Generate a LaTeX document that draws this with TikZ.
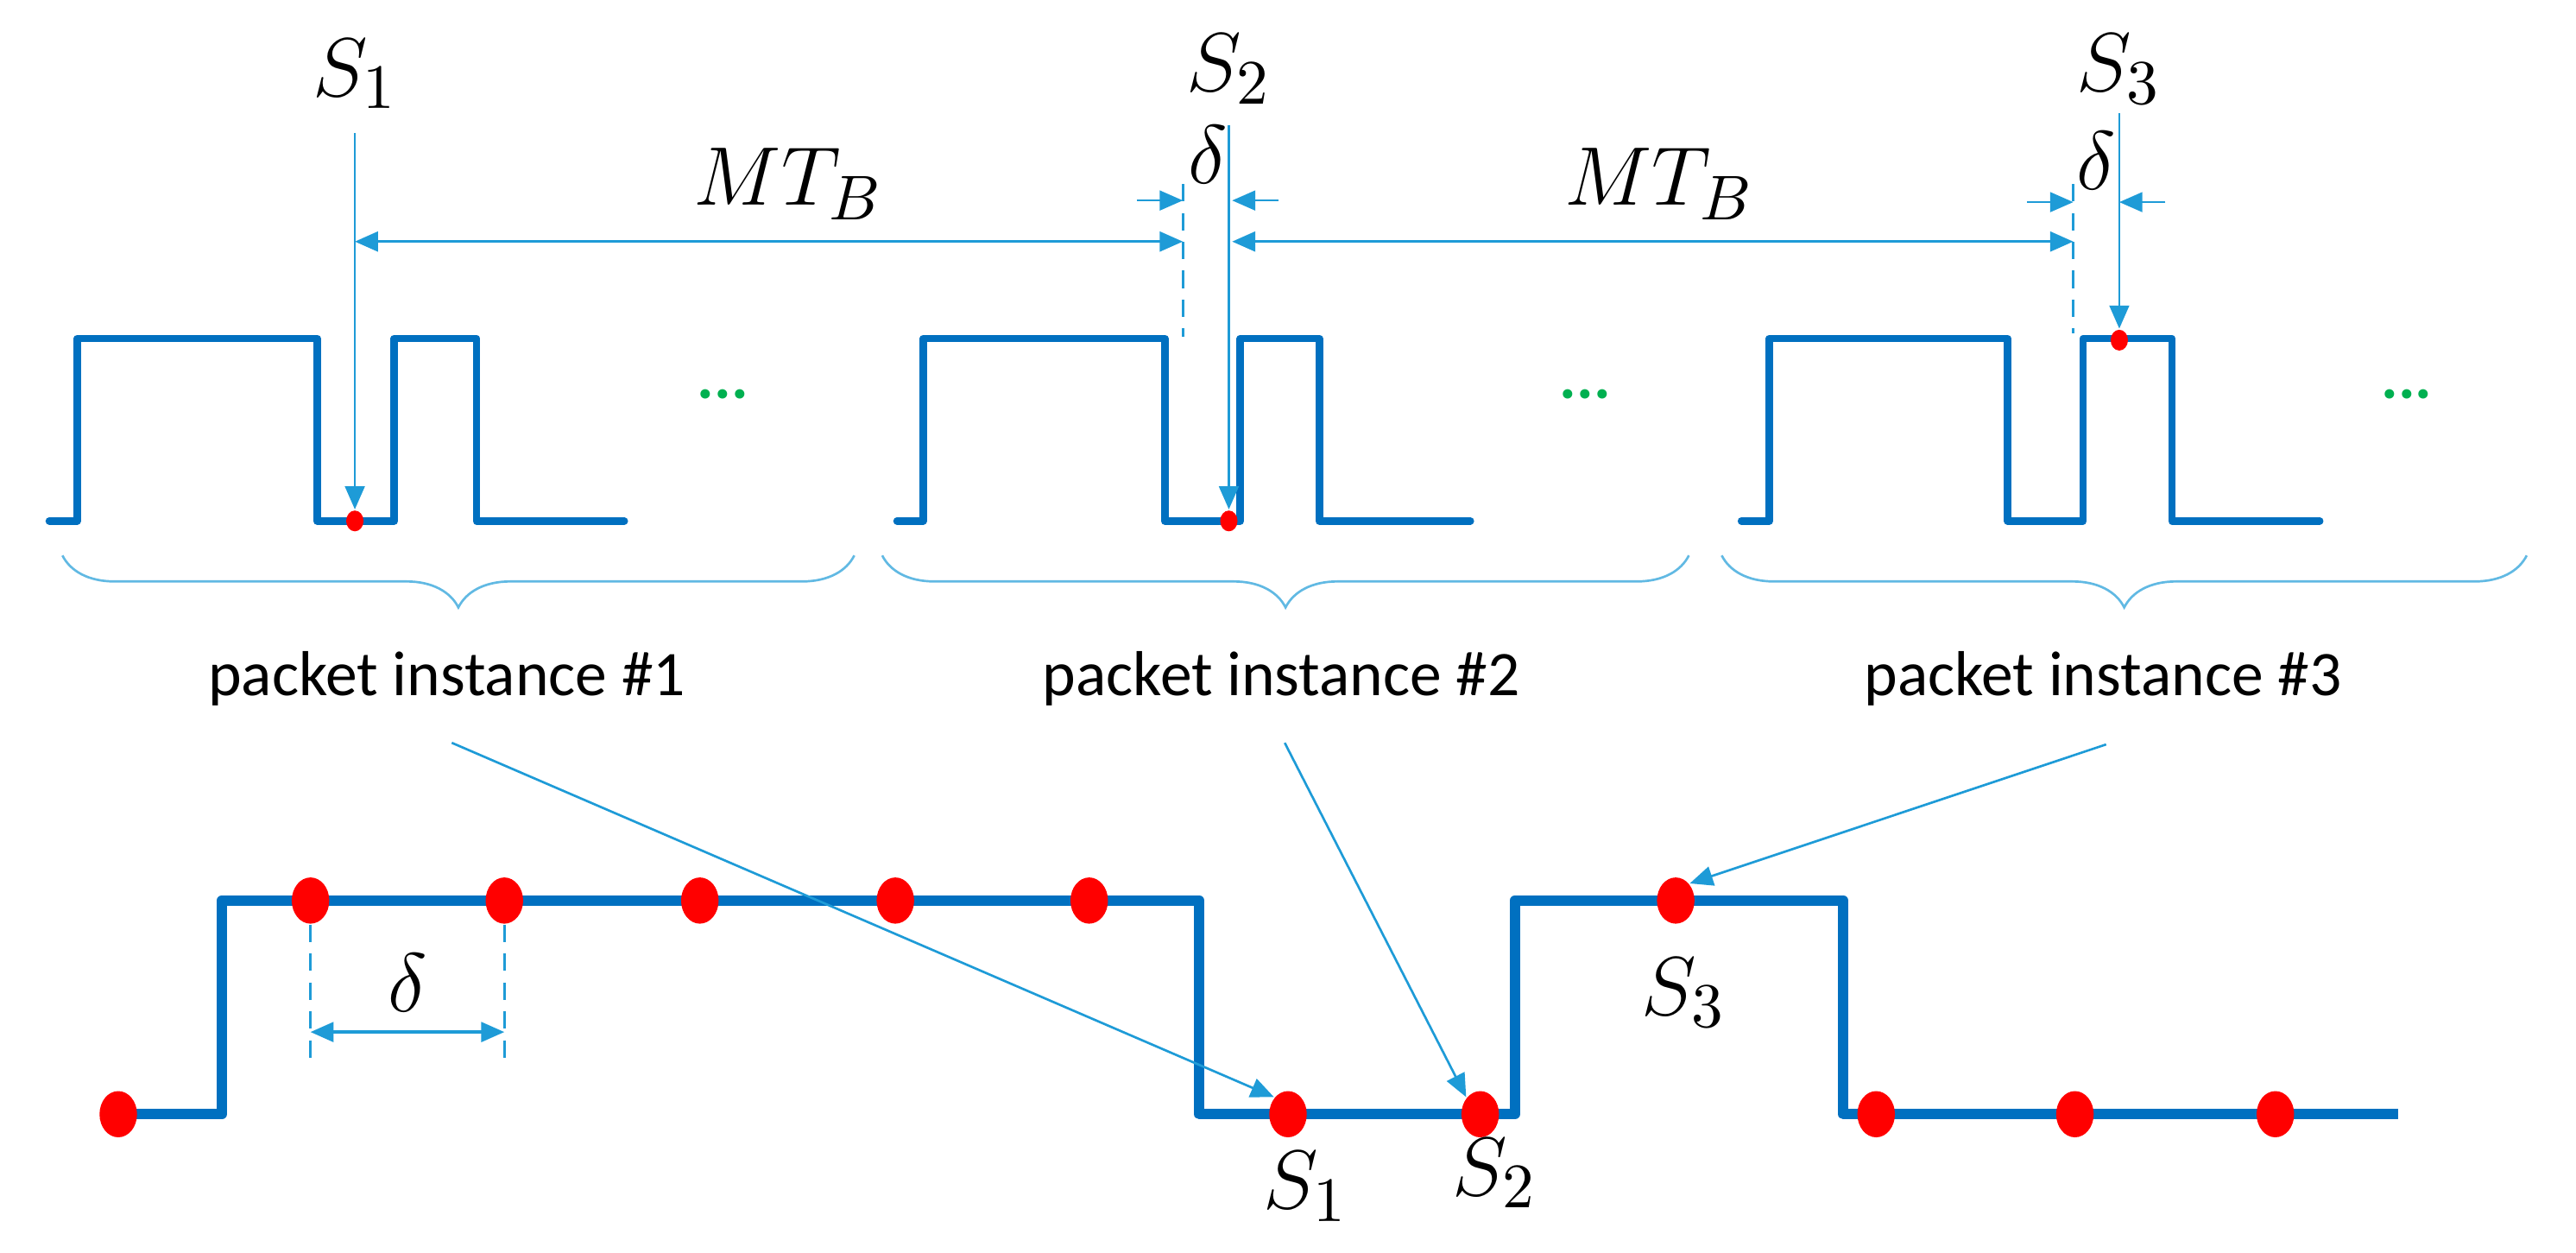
\documentclass[tikz,border=0pt]{standalone}
\usepackage{fontspec}
\setmainfont{Carlito}
\usetikzlibrary{arrows.meta,decorations.pathreplacing,shapes.geometric}
\definecolor{wave}{HTML}{0070C0}
\definecolor{arr}{HTML}{1E9BD7}
\definecolor{gdot}{HTML}{00B050}
\begin{document}
\begin{tikzpicture}[x=0.1mm,y=-0.1mm,
  wt/.style={wave,line width=1.3pt,line join=round,line cap=round},
  wb/.style={wave,line width=1.8pt,line join=round},
  sdot/.style={ellipse,fill=red,inner sep=0pt,minimum width=3pt,minimum height=3.6pt},
  bdot/.style={ellipse,fill=red,inner sep=0pt,minimum width=6.5pt,minimum height=8pt},
  tip/.style={arr,line width=0.4pt,-{Triangle[length=4pt,width=3.4pt]}},
  dim/.style={arr,line width=0.5pt,{Triangle[length=4pt,width=3.4pt]}-{Triangle[length=4pt,width=3.4pt]}},
  dsh/.style={arr,line width=0.4pt,dash pattern=on 3pt off 2pt},
  lbl/.style={font=\fontsize{15}{17}\selectfont},
  pk/.style={font=\fontsize{11}{13}\selectfont},
  gd/.style={gdot,font=\bfseries\fontsize{11}{13}\selectfont},
  br/.style={arr!70,line width=0.4pt,decorate,decoration={brace,mirror,amplitude=9pt}}]
\useasboundingbox (0,0) rectangle (1568,762);
% top waveforms
\draw[wt] (30,317)--(47,317)--(47,206)--(193,206)--(193,317)--(240,317)--(240,206)--(290,206)--(290,317)--(380,317);
\draw[wt] (546,317)--(562,317)--(562,206)--(709,206)--(709,317)--(755,317)--(755,206)--(803,206)--(803,317)--(895,317);
\draw[wt] (1060,317)--(1077,317)--(1077,206)--(1222,206)--(1222,317)--(1268,317)--(1268,206)--(1322,206)--(1322,317)--(1412,317);
\node[gd] (g1) at (440,240) {...};
\node[gd] (g2) at (965,240) {...};
\node[gd] (g3) at (1465,240) {...};
\node[sdot] (d1) at (216,317) {};
\node[sdot] (d2) at (748,317) {};
\node[sdot] (d3) at (1290,207) {};
% S labels top
\node[lbl] (s1) at (216,45) {$S_1$};
\node[lbl] (s2) at (748,42) {$S_2$};
\node[lbl] (s3) at (1290,42) {$S_3$};
\coordinate (s1a) at (216,81);
\coordinate (s2a) at (748,76);
\coordinate (s3a) at (1290,69);
\draw[tip] (s1a)--(d1.north);
\draw[tip] (s2a)--(d2.north);
\draw[tip] (s3a)--(d3.north);
% dashed markers
\coordinate (m2) at (720,112);
\coordinate (m2b) at (720,205);
\coordinate (m3) at (1262,112);
\coordinate (m3b) at (1262,203);
\draw[dsh] (m2)--(m2b);
\draw[dsh] (m3)--(m3b);
% MT_B
\coordinate (a1) at (216,147); \coordinate (a2) at (720,147);
\coordinate (a3) at (750,147); \coordinate (a4) at (1262,147);
\draw[dim] (a1)--(a2);
\draw[dim] (a3)--(a4);
\node[lbl] (mt1) at (480,112) {$MT_B$};
\node[lbl] (mt2) at (1010,112) {$MT_B$};
% delta top
\coordinate (e1) at (692,122); \coordinate (e2) at (720,122);
\coordinate (e3) at (778,122); \coordinate (e4) at (750,122);
\draw[tip] (e1)--(e2);
\draw[tip] (e3)--(e4);
\node[lbl] (dl1) at (735,94) {$\delta$};
\coordinate (f1) at (1234,123); \coordinate (f2) at (1262,123);
\coordinate (f3) at (1318,123); \coordinate (f4) at (1290,123);
\draw[tip] (f1)--(f2);
\draw[tip] (f3)--(f4);
\node[lbl] (dl2) at (1276,98) {$\delta$};
% braces
\draw[br] (38,338)--(520,338);
\draw[br] (537,338)--(1028,338);
\draw[br] (1048,338)--(1538,338);
\node[pk] (p1) at (272,413) {packet instance \#1};
\node[pk] (p2) at (780,413) {packet instance \#2};
\node[pk] (p3) at (1280,413) {packet instance \#3};
% bottom waveform
\draw[wb] (72,678)--(135,678)--(135,548)--(730,548)--(730,678)--(922,678)--(922,548)--(1122,548)--(1122,678)--(1460,678);
\node[bdot] (b0) at (72,678) {};
\node[bdot] (t1) at (189,548) {};
\node[bdot] (t2) at (307,548) {};
\node[bdot] (t3) at (426,548) {};
\node[bdot] (t4) at (545,548) {};
\node[bdot] (t5) at (663,548) {};
\node[bdot] (bs1) at (784,678) {};
\node[bdot] (bs2) at (901,678) {};
\node[bdot] (bs3) at (1020,548) {};
\node[bdot] (b1) at (1142,678) {};
\node[bdot] (b2) at (1263,678) {};
\node[bdot] (b3) at (1385,678) {};
\node[lbl] (ls1) at (795,722) {$S_1$};
\node[lbl] (ls2) at (910,714) {$S_2$};
\node[lbl] (ls3) at (1025,604) {$S_3$};
% bottom delta
\coordinate (h1) at (189,645); \coordinate (h2) at (307,645);
\draw[dsh] (t1.south)--(h1);
\draw[dsh] (t2.south)--(h2);
\coordinate (k1) at (189,628); \coordinate (k2) at (307,628);
\draw[dim] (k1)--(k2);
\node[lbl] (dl3) at (248,598) {$\delta$};
% pointers
\coordinate (q1) at (275,452);
\coordinate (q2) at (782,452);
\coordinate (q3) at (1282,453);
\draw[tip] (q1)--(bs1.north west);
\draw[tip] (q2)--(bs2.north west);
\draw[tip] (q3)--(bs3.north east);
\end{tikzpicture}
\end{document}
